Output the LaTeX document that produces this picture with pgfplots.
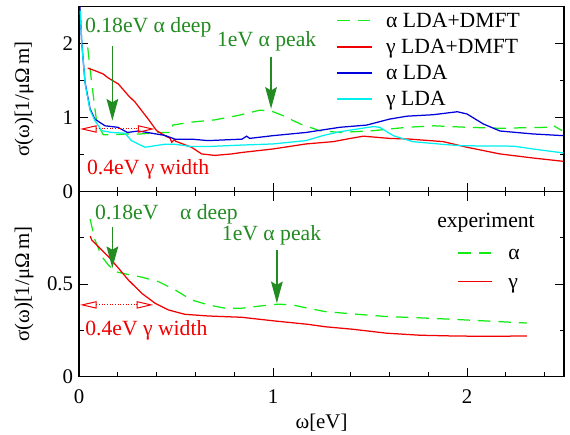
\documentclass[border=0pt]{standalone}
\usepackage{fontspec}
\setmainfont{Liberation Serif}
\usepackage{pgfplots}
\pgfplotsset{compat=1.18}
\usetikzlibrary{arrows.meta}
\definecolor{dgreen}{RGB}{34,139,34}
\definecolor{lgreen}{RGB}{20,235,20}
\definecolor{cred}{RGB}{240,0,0}
\definecolor{cblue}{RGB}{0,0,220}
\definecolor{ccyan}{RGB}{0,240,240}
\newcommand\af{\fontsize{12.5}{15}\selectfont}
\newcommand\bfnt{\fontsize{13}{15.5}\selectfont}
\pgfplotsset{
  myaxis/.style={
    scale only axis, width=291pt, height=111pt,
    xmin=0, xmax=2.5,
    xtick={0,1,2},
    minor xtick={0.2,0.4,0.6,0.8,1.2,1.4,1.6,1.8,2.2,2.4},
    tick align=inside,
    major tick length=5.4pt, minor tick length=2.7pt,
    axis line style={line width=0.8pt},
    every tick/.style={line width=0.6pt, black},
    /pgf/number format/assume math mode=true,
    ticklabel style={font=\af},
    label style={font=\af},
    every axis plot/.append style={line width=0.75pt},
  },
}
\begin{document}
\begin{tikzpicture}
% bottom panel: experiment
\begin{axis}[myaxis, name=bot, at={(0,0)}, anchor=south west,
  ymin=0, ymax=1, ytick={0,0.5}, minor ytick={0.25,0.75},
  xticklabel style={yshift=-4.5pt},
  xlabel={ω[eV]},
  xlabel style={at={(axis description cs:0.5,0)}, anchor=center, yshift=-27.8pt}]
\addplot[color=lgreen, dash pattern=on 7.5pt off 4.8pt] coordinates {
(0.057,0.852) (0.082,0.74) (0.117,0.65) (0.151,0.604) (0.186,0.568) (0.237,0.556)
(0.323,0.538) (0.409,0.514) (0.495,0.469) (0.58,0.415) (0.667,0.388) (0.753,0.37)
(0.839,0.37) (0.942,0.383) (1.027,0.392) (1.1,0.388) (1.18,0.37) (1.268,0.352)
(1.414,0.339) (1.586,0.325) (1.758,0.318) (1.929,0.31) (2.1,0.301) (2.308,0.29)};
\addplot[color=cred] coordinates {
(0.058,0.76) (0.065,0.74) (0.1,0.703) (0.151,0.65) (0.203,0.587) (0.254,0.523)
(0.323,0.451) (0.392,0.397) (0.46,0.361) (0.546,0.337) (0.667,0.328) (0.839,0.321)
(1.01,0.301) (1.18,0.283) (1.268,0.27) (1.414,0.256) (1.586,0.235) (1.758,0.224)
(1.929,0.22) (2.1,0.218) (2.308,0.22)};
% legend
\node[anchor=base west, font=\bfnt, inner sep=0pt] at (1.845,0.808) {experiment};
\draw[lgreen, line width=0.75pt, dash pattern=on 7.5pt off 4.8pt] (1.954,0.669) -- (2.129,0.669);
\node[anchor=base west, font=\bfnt, inner sep=0pt] at (2.211,0.633) {α};
\draw[cred, line width=0.75pt] (1.954,0.515) -- (2.129,0.515);
\node[anchor=base west, font=\bfnt, inner sep=0pt] at (2.211,0.479) {γ};
% annotations
\node[anchor=base west, font=\bfnt, text=dgreen, inner sep=0pt] at (0.082,0.852) {0.18eV\quad α deep};
\draw[dgreen, line width=0.8pt, -{Stealth[length=13pt,width=7pt,inset=2pt]}] (0.172,0.81) -- (0.172,0.587);
\node[anchor=base west, font=\bfnt, text=dgreen, inner sep=0pt] at (0.735,0.736) {1eV α peak};
\draw[dgreen, line width=0.8pt, -{Stealth[length=13pt,width=7pt,inset=2pt]}] (1.02,0.686) -- (1.02,0.397);
\node[anchor=base west, font=\bfnt, text=cred, inner sep=0pt] at (0.031,0.222) {0.4eV γ width};
\draw[cred, line width=0.6pt, densely dotted, {Triangle[open,length=10pt,width=4.4pt]}-{Triangle[open,length=10pt,width=4.4pt]}] (0.005,0.388) -- (0.383,0.388);
\end{axis}
% top panel: theory
\begin{axis}[myaxis, name=top, at={(0,111pt)}, anchor=south west,
  ymin=0, ymax=2.5, ytick={0,1,2}, minor ytick={0.5,1.5},
  xtick pos=lower, xticklabel=\empty]
\addplot[color=lgreen, dash pattern=on 7.5pt off 4.8pt] coordinates {
(0.045,1.95) (0.065,1.48) (0.091,0.94) (0.125,0.77) (0.17,0.77) (0.25,0.78) (0.32,0.78)
(0.41,0.80) (0.478,0.80) (0.483,0.90) (0.58,0.94) (0.70,0.97) (0.82,1.03) (0.93,1.10)
(0.985,1.095) (1.05,1.03) (1.14,0.915) (1.24,0.825) (1.345,0.80) (1.52,0.825) (1.69,0.87)
(1.83,0.89) (2.0,0.87) (2.17,0.857) (2.41,0.87) (2.437,0.905) (2.49,0.825)};
\addplot[color=cred] coordinates {
(0.045,1.67) (0.082,1.635) (0.125,1.59) (0.151,1.536) (0.203,1.455) (0.254,1.30)
(0.289,1.21) (0.323,1.095) (0.357,0.98) (0.40,0.825) (0.443,0.757) (0.47,0.72)
(0.478,0.667) (0.49,0.70) (0.50,0.68) (0.58,0.60) (0.632,0.51) (0.70,0.49) (0.787,0.51)
(0.84,0.53) (1.0,0.577) (1.17,0.645) (1.31,0.676) (1.40,0.72) (1.466,0.75) (1.60,0.72)
(1.706,0.71) (1.878,0.676) (2.0,0.60) (2.17,0.51) (2.34,0.455) (2.497,0.41)};
\addplot[color=cblue] coordinates {
(0.005,2.5) (0.014,2.02) (0.031,1.48) (0.057,1.12) (0.082,0.98) (0.134,0.89) (0.2,0.87)
(0.25,0.80) (0.306,0.82) (0.375,0.79) (0.443,0.76) (0.495,0.71) (0.58,0.71) (0.665,0.69)
(0.84,0.71) (0.864,0.75) (0.88,0.72) (1.0,0.757) (1.17,0.80) (1.345,0.87) (1.483,0.90)
(1.60,0.98) (1.69,1.02) (1.826,1.04) (1.95,1.08) (2.0,1.05) (2.084,0.915) (2.17,0.82)
(2.34,0.78) (2.497,0.757)};
\addplot[color=ccyan] coordinates {
(0.006,2.45) (0.015,1.98) (0.032,1.45) (0.057,1.10) (0.082,0.96) (0.117,0.825) (0.168,0.80)
(0.237,0.79) (0.27,0.69) (0.34,0.60) (0.39,0.62) (0.44,0.64) (0.495,0.64) (0.58,0.61)
(0.665,0.61) (0.84,0.63) (1.0,0.645) (1.17,0.69) (1.26,0.76) (1.345,0.81) (1.517,0.88)
(1.55,0.87) (1.62,0.757) (1.72,0.676) (1.895,0.635) (1.98,0.62) (2.24,0.615) (2.34,0.577)
(2.497,0.523)};
% legend
\draw[lgreen, line width=0.75pt, dash pattern=on 7.5pt off 4.8pt] (1.33,2.311) -- (1.51,2.311);
\node[anchor=base west, font=\bfnt, inner sep=0pt] at (1.582,2.222) {α LDA+DMFT};
\draw[cred, line width=0.75pt] (1.33,1.955) -- (1.51,1.955);
\node[anchor=base west, font=\bfnt, inner sep=0pt] at (1.582,1.866) {γ LDA+DMFT};
\draw[cblue, line width=0.75pt] (1.33,1.604) -- (1.51,1.604);
\node[anchor=base west, font=\bfnt, inner sep=0pt] at (1.582,1.515) {α LDA};
\draw[ccyan, line width=0.75pt] (1.33,1.252) -- (1.51,1.252);
\node[anchor=base west, font=\bfnt, inner sep=0pt] at (1.582,1.163) {γ LDA};
% annotations
\node[anchor=base west, font=\bfnt, text=dgreen, inner sep=0pt] at (0.03,2.145) {0.18eV α deep};
\draw[dgreen, line width=0.8pt, -{Stealth[length=13pt,width=7pt,inset=2pt]}] (0.172,1.97) -- (0.172,0.96);
\node[anchor=base west, font=\bfnt, text=dgreen, inner sep=0pt] at (0.71,1.955) {1eV α peak};
\draw[dgreen, line width=0.8pt, -{Stealth[length=13pt,width=7pt,inset=2pt]}] (0.99,1.82) -- (0.99,1.12);
\node[anchor=base west, font=\bfnt, text=cred, inner sep=0pt] at (0.04,0.226) {0.4eV γ width};
\draw[cred, line width=0.6pt, densely dotted, {Triangle[open,length=10pt,width=4.4pt]}-{Triangle[open,length=10pt,width=4.4pt]}] (0.005,0.847) -- (0.39,0.847);
\end{axis}
% y labels
\node[rotate=90, font=\af] at (-33pt,55.5pt) {σ(ω)[1/μΩ\,m]};
\node[rotate=90, font=\af] at (-33pt,166.5pt) {σ(ω)[1/μΩ\,m]};
\pgfresetboundingbox
\path (-47.4pt,-34.4pt) rectangle (294.6pt,226pt);
\end{tikzpicture}
\end{document}
